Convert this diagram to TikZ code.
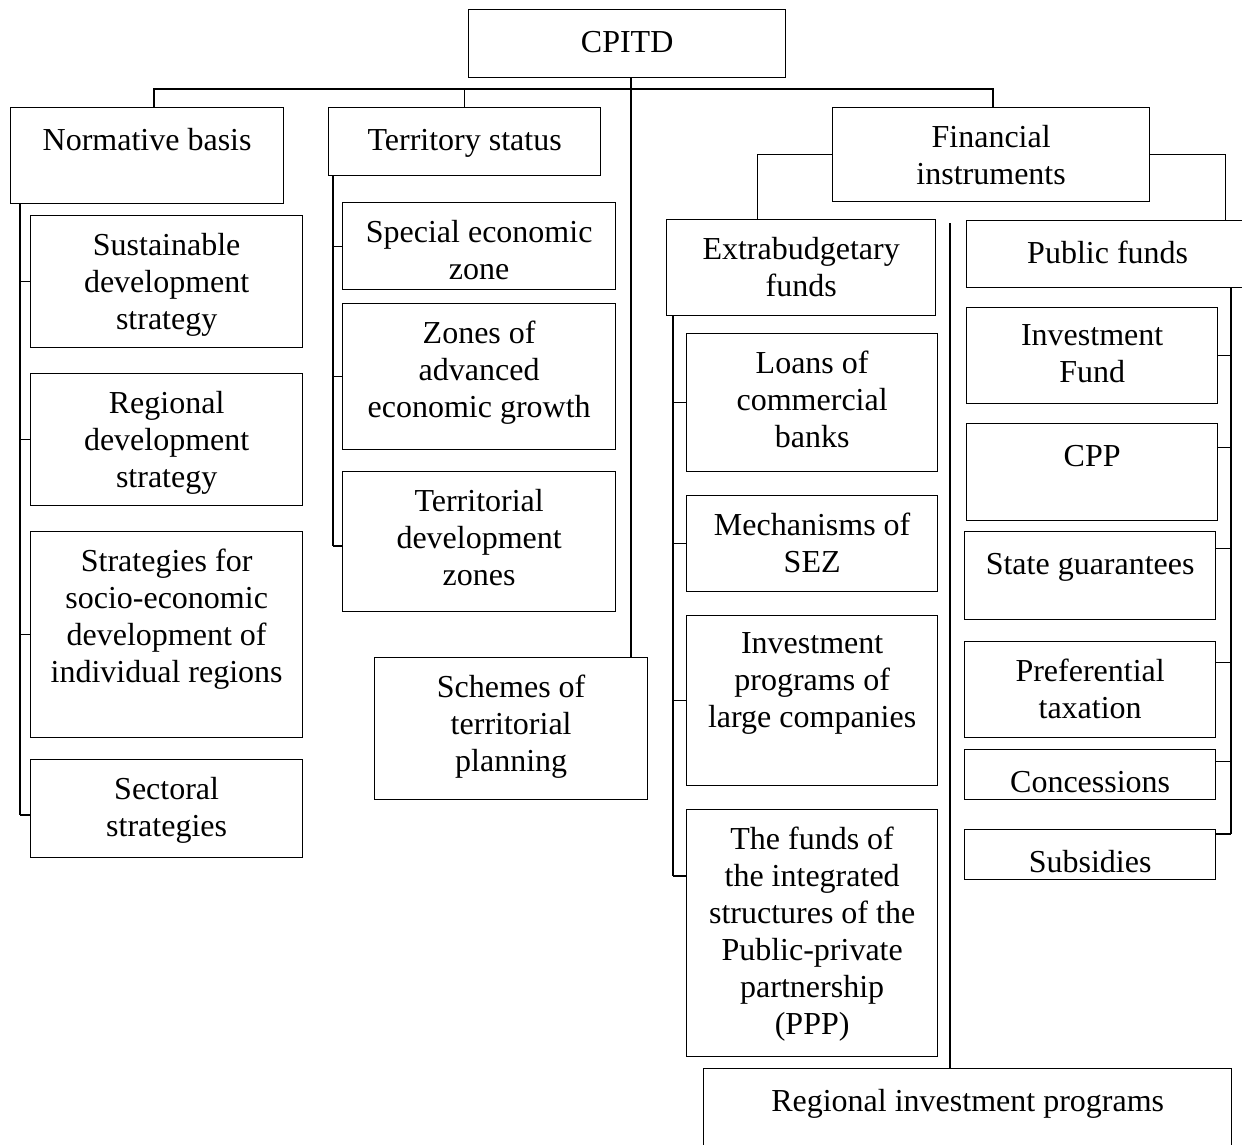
\documentclass[tikz,border=0pt]{standalone}
\usepackage{fontspec}
\setmainfont{Liberation Serif}
\begin{document}
\begin{tikzpicture}[x=1pt,y=-1pt,
  cell/.style={draw=black, line width=1.3pt, inner sep=0pt, fill=none},
  celltext/.style={align=center, inner sep=0pt, font=\fontsize{32}{37}\selectfont,
    execute at begin node=\strut},
  link/.style={draw=black, line width=1.3pt}]
\useasboundingbox (0,0) rectangle (1242,1144);
\fill[white] (0,0) rectangle (1242,1144);

% box: name, left, top, right, bottom, text (top aligned)
\newcommand\cellbox[6]{%
  \node[cell, anchor=north west, minimum width={#4-#2}, minimum height={#5-#3}] (#1) at (#2,#3) {};
  \node[celltext, anchor=north] (#1-t) at ([yshift=-17.8pt]#1.north) {#6};}

% root and first level
\cellbox{root}{468}{9}{785}{77}{CPITD}
\cellbox{norm}{10}{107}{283}{203}{Normative basis}
\cellbox{terr}{328}{107}{600}{175}{Territory status}
\cellbox{fin}{832}{107}{1149}{201}{Financial\\instruments}
\cellbox{schemes}{374}{657}{647}{799}{Schemes of\\territorial\\planning}

% normative basis
\cellbox{sust}{30}{215}{302}{347}{Sustainable\\development\\strategy}
\cellbox{regd}{30}{373}{302}{505}{Regional\\development\\strategy}
\cellbox{socio}{30}{531}{302}{737}{Strategies for\\socio-economic\\development of\\individual regions}
\cellbox{sect}{30}{759}{302}{857}{Sectoral\\strategies}

% territory status
\cellbox{sez}{342}{202}{615}{289}{Special economic\\zone}
\cellbox{zones}{342}{303}{615}{449}{Zones of\\advanced\\economic growth}
\cellbox{tdz}{342}{471}{615}{611}{Territorial\\development\\zones}

% financial instruments
\cellbox{extra}{666}{219}{935}{315}{Extrabudgetary\\funds}
\cellbox{pub}{966}{220}{1248}{287}{Public funds}

\cellbox{loans}{686}{333}{937}{471}{Loans of\\commercial\\banks}
\cellbox{mech}{686}{495}{937}{591}{Mechanisms of\\SEZ}
\cellbox{invp}{686}{615}{937}{785}{Investment\\programs of\\large companies}
\cellbox{ppp}{686}{809}{937}{1056}{The funds of\\the integrated\\structures of the\\Public-private\\partnership\\(PPP)}

\cellbox{invf}{966}{307}{1217}{403}{Investment\\Fund}
\cellbox{cpp}{966}{423}{1217}{520}{CPP}
\cellbox{guar}{964}{531}{1215}{619}{State guarantees}
\cellbox{pref}{964}{641}{1215}{737}{Preferential\\taxation}
\cellbox{conc}{964}{749}{1215}{799}{Concessions}
\cellbox{subs}{964}{829}{1215}{879}{Subsidies}

\cellbox{rip}{703}{1068}{1231}{1150}{Regional investment programs}

% top bus
\coordinate (busL) at (154,89);
\coordinate (busR) at (993,89);
\draw[link] (busL |- norm.north) -- (busL) -- (busR) -- (busR |- fin.north);
\draw[link] (terr.north |- busL) -- (terr.north);
\coordinate (trunk) at (631,77);
\draw[link] (trunk |- root.south) -- (trunk |- schemes.north);

% financial instruments branches
\draw[link] (fin.west) -| ([xshift=-43.5pt]extra.north);
\draw[link] (fin.east) -| ([xshift=118pt]pub.north);
\coordinate (mid) at (950,223);
\draw[link] (mid) -- (mid |- rip.north);

% normative basis trunk
\coordinate (ntr) at (20,815);
\draw[link] (ntr |- norm.south) -- (ntr);
\draw[link] (ntr |- sust.west) -- (sust.west);
\draw[link] (ntr |- regd.west) -- (regd.west);
\draw[link] (ntr |- socio.west) -- (socio.west);
\draw[link] (ntr) -- (ntr -| sect.west);

% territory status trunk
\coordinate (ttr) at (333,546);
\draw[link] (ttr |- terr.south) -- (ttr);
\draw[link] (ttr |- sez.west) -- (sez.west);
\draw[link] (ttr |- zones.west) -- (zones.west);
\draw[link] (ttr) -- (ttr -| tdz.west);

% extrabudgetary funds trunk
\coordinate (etr) at (673,876);
\draw[link] (etr |- extra.south) -- (etr);
\draw[link] (etr |- loans.west) -- (loans.west);
\draw[link] (etr |- mech.west) -- (mech.west);
\draw[link] (etr |- invp.west) -- (invp.west);
\draw[link] (etr) -- (etr -| ppp.west);

% public funds trunk
\coordinate (ptr) at (1231,834);
\draw[link] (ptr |- pub.south) -- (ptr);
\draw[link] (invf.east) -- (invf.east -| ptr);
\draw[link] ([yshift=24.5pt]cpp.east) -- ([yshift=24.5pt]cpp.east -| ptr);
\draw[link] ([yshift=27pt]guar.east) -- ([yshift=27pt]guar.east -| ptr);
\draw[link] ([yshift=27pt]pref.east) -- ([yshift=27pt]pref.east -| ptr);
\draw[link] ([yshift=13pt]conc.east) -- ([yshift=13pt]conc.east -| ptr);
\draw[link] (ptr -| subs.east) -- (ptr);
\end{tikzpicture}
\end{document}
